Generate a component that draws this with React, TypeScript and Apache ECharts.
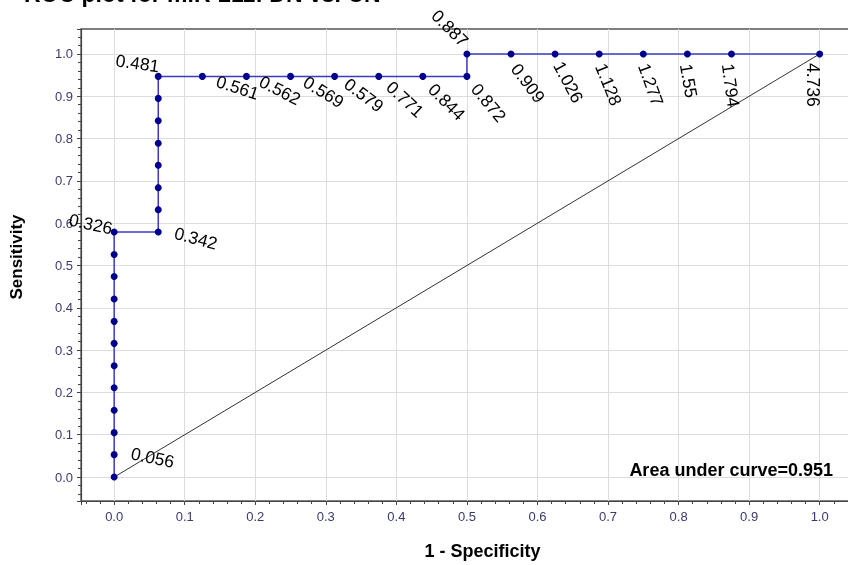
import React, { useEffect, useRef } from "react";
import * as echarts from "echarts";

// ROC curve points: 1 - specificity (x) and sensitivity (y)
const oneMinusSpecificity = [
  0, 0, 0, 0, 0, 0, 0, 0, 0, 0, 0, 0,
  0.0625, 0.0625, 0.0625, 0.0625, 0.0625, 0.0625, 0.0625, 0.0625,
  0.125, 0.1875, 0.25, 0.3125, 0.375, 0.4375, 0.5,
  0.5, 0.5625, 0.625, 0.6875, 0.75, 0.8125, 0.875, 1.0,
];
const sensitivity = [
  0, 0.053, 0.105, 0.158, 0.211, 0.263, 0.316, 0.368, 0.421, 0.474, 0.526, 0.579,
  0.579, 0.632, 0.684, 0.737, 0.789, 0.842, 0.895, 0.947,
  0.947, 0.947, 0.947, 0.947, 0.947, 0.947, 0.947,
  1, 1, 1, 1, 1, 1, 1, 1,
];
// cut-off values shown next to points ("" = no label)
const cutoffs = [
  "0.056", "", "", "", "", "", "", "", "", "", "", "0.326",
  "0.342", "", "", "", "", "", "", "0.481",
  "0.561", "0.562", "0.569", "0.579", "0.771", "0.844", "0.872",
  "0.887", "0.909", "1.026", "1.128", "1.277", "1.55", "1.794", "4.736",
];
const chanceLine = [
  [0, 0],
  [1, 1],
];
const auc = 0.951;
const title = "ROC plot for miR-211: DN vs. CN";

// label placement (style): [dx, dy, rotate, align]
const labelPlacement: Record<string, [number, number, number, string]> = {
  "0.056": [17, -24, -12, "left"],
  "0.326": [-2, -3.5, -12, "right"],
  "0.342": [16.5, 0.5, -15, "left"],
  "0.481": [1, -10, -8, "right"],
  "0.561": [14.5, 4.4, -18, "left"],
  "0.562": [14, 4, -27, "left"],
  "0.569": [14.5, 4, -32, "left"],
  "0.579": [11.7, 5.5, -37, "left"],
  "0.771": [10.3, 8, -43, "left"],
  "0.844": [8.3, 10, -45, "left"],
  "0.872": [7.6, 9.6, -50, "left"],
  "0.887": [-1.5, -10.2, -45, "right"],
  "0.909": [3.7, 11.6, -53, "left"],
  "1.026": [3, 8.8, -62, "left"],
  "1.128": [1.2, 10.2, -68, "left"],
  "1.277": [0, 10, -70, "left"],
  "1.55": [-1.7, 10, -80, "left"],
  "1.794": [-3.8, 9.8, -82, "left"],
  "4.736": [-7, 9, -90, "left"],
};

const FONT = 'Arial, "Liberation Sans", sans-serif';
const SYM = 7;

export default function App() {
  const ref = useRef<HTMLDivElement>(null);
  useEffect(() => {
    if (!ref.current) return;
    const chart = echarts.init(ref.current, null, { renderer: "svg" });
    const rocData = oneMinusSpecificity.map((x, i) => {
      const t = cutoffs[i];
      const item: any = { value: [x, sensitivity[i]] };
      if (t) {
        const [dx, dy, rot, align] = labelPlacement[t];
        item.label = {
          show: true,
          formatter: t,
          position: [SYM / 2 + dx, SYM / 2 + dy],
          rotate: rot,
          align,
          verticalAlign: "middle",
        };
      }
      return item;
    });
    const axisLabelColor = "#3a3a6e";
    chart.setOption({
      animation: false,
      grid: {
        left: 81,
        top: 29,
        bottom: 63,
        right: 0,
        show: true,
        borderColor: "#555",
        borderWidth: 1.3,
        backgroundColor: "transparent",
      },
      graphic: [
        {
          type: "text",
          left: 24,
          top: -18,
          style: {
            text: title,
            font: `bold 23px ${FONT}`,
            fill: "#000",
          },
        },
        {
          type: "text",
          x: 833,
          y: 470,
          style: {
            text: `Area under curve=${auc}`,
            font: `bold 18px ${FONT}`,
            fill: "#000",
            align: "right",
            verticalAlign: "middle",
          },
          z: 10,
        },
      ],
      xAxis: {
        type: "value",
        min: -0.047,
        max: 1.06,
        splitNumber: 11,
        name: "1 - Specificity",
        nameLocation: "middle",
        nameGap: 41,
        nameTextStyle: {
          fontFamily: FONT,
          fontSize: 18,
          fontWeight: "bold",
          color: "#000",
          padding: [0, 0, 0, 22],
        },
        axisLine: { show: true, onZero: false, lineStyle: { color: "#444", width: 1.2 } },
        axisTick: { show: true, inside: false, length: 4, lineStyle: { color: "#444" } },
        minorTick: { show: true, splitNumber: 5, length: 3, lineStyle: { color: "#444" } },
        axisLabel: {
          showMinLabel: false,
          showMaxLabel: false,
          margin: 9,
          fontFamily: FONT,
          fontSize: 13,
          color: axisLabelColor,
          formatter: (v: number) => v.toFixed(1),
        },
        splitLine: {
          show: true,
          showMinLine: false,
          showMaxLine: false,
          lineStyle: { color: "#dddddd", width: 1 },
        },
      },
      yAxis: {
        type: "value",
        min: -0.0566,
        max: 1.059,
        splitNumber: 11,
        name: "Sensitivity",
        nameLocation: "middle",
        nameGap: 56,
        nameTextStyle: {
          fontFamily: FONT,
          fontSize: 17,
          fontWeight: "bold",
          color: "#000",
          padding: [0, 0, 0, 16],
        },
        axisLine: { show: true, onZero: false, lineStyle: { color: "#444", width: 1.2 } },
        axisTick: { show: true, inside: false, length: 4, lineStyle: { color: "#444" } },
        minorTick: { show: true, splitNumber: 5, length: 3, lineStyle: { color: "#444" } },
        axisLabel: {
          showMinLabel: false,
          showMaxLabel: false,
          margin: 8,
          fontFamily: FONT,
          fontSize: 13,
          color: axisLabelColor,
          formatter: (v: number) => v.toFixed(1),
        },
        splitLine: {
          show: true,
          showMinLine: false,
          showMaxLine: false,
          lineStyle: { color: "#dddddd", width: 1 },
        },
      },
      series: [
        {
          type: "line",
          data: chanceLine,
          symbol: "none",
          silent: true,
          lineStyle: { color: "#333", width: 1 },
          z: 2,
        },
        {
          type: "line",
          data: rocData,
          symbol: "circle",
          symbolSize: SYM,
          showSymbol: true,
          silent: true,
          itemStyle: { color: "#00008b", borderWidth: 0 },
          lineStyle: { color: "#3b3bc2", width: 1.5 },
          label: {
            show: false,
            color: "#000",
            fontFamily: FONT,
            fontSize: 17.5,
            textBorderWidth: 0,
          },
          emphasis: { disabled: true },
          labelLayout: { hideOverlap: false },
          z: 3,
        },
      ],
    });
    return () => chart.dispose();
  }, []);
  return (
    <div
      ref={ref}
      style={{ position: "fixed", left: 0, top: 0, width: 862, height: 565 }}
    />
  );
}
